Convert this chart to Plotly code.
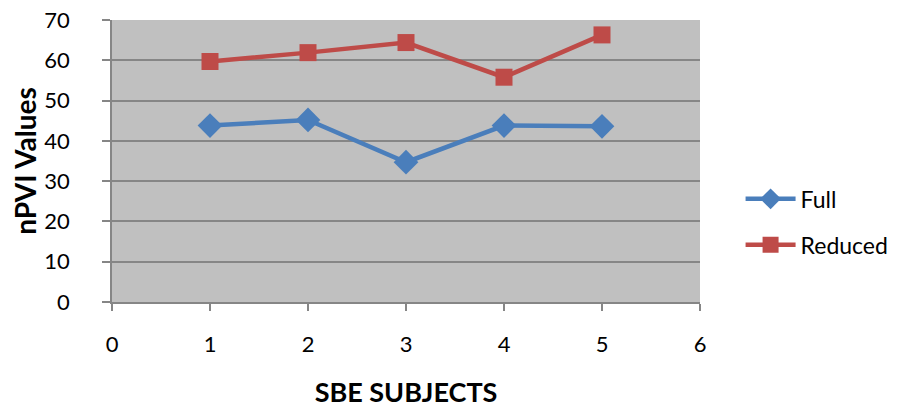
import plotly.graph_objects as go

# nPVI values per SBE subject
subjects = [1, 2, 3, 4, 5]
full_vals = [43.8, 45.2, 34.7, 43.8, 43.6]
reduced_vals = [59.7, 61.9, 64.4, 55.8, 66.3]

x_ticks = [0, 1, 2, 3, 4, 5, 6]
y_ticks = [0, 10, 20, 30, 40, 50, 60, 70]

FONT = "Lato, Carlito, 'Liberation Sans', sans-serif"
GRID = "#868686"

fig = go.Figure()
fig.add_trace(go.Scatter(
    x=subjects, y=full_vals, name="Full", mode="lines+markers",
    line=dict(color="#4A7EBB", width=4.5),
    marker=dict(symbol="diamond", size=19, color="#4A7EBB"),
    legendgroup="a",
))
fig.add_trace(go.Scatter(
    x=subjects, y=reduced_vals, name="Reduced", mode="lines+markers",
    line=dict(color="#BE4B48", width=4.5),
    marker=dict(symbol="square", size=17, color="#BE4B48"),
    legendgroup="b",
))

fig.update_layout(
    width=904, height=417,
    margin=dict(l=112, r=204, t=20, b=115, autoexpand=False),
    paper_bgcolor="white",
    plot_bgcolor="#C0C0C0",
    font=dict(family=FONT, size=22, color="black"),
    legend=dict(
        x=1.069, y=0.442, xanchor="left", yanchor="top",
        font=dict(size=23), tracegroupgap=13,
        itemwidth=50, bgcolor="rgba(0,0,0,0)",
    ),
    xaxis=dict(
        range=[0, 6], tickvals=x_ticks, ticktext=[str(v) for v in x_ticks],
        ticks="outside", ticklen=7, tickcolor=GRID, tickwidth=1.5,
        ticklabelstandoff=15, automargin=False,
        showgrid=False, zeroline=False,
        showline=True, linecolor=GRID, linewidth=1.5,
        title=dict(text="<b>SBE SUBJECTS</b>", font=dict(size=27), standoff=27),
        tickfont=dict(size=22),
    ),
    yaxis=dict(
        range=[0, 70], tickvals=y_ticks,
        ticks="outside", ticklen=8, tickcolor=GRID, tickwidth=1.5,
        ticklabelstandoff=28, automargin=False,
        showgrid=True, gridcolor=GRID, gridwidth=1.5,
        zeroline=False,
        showline=True, linecolor=GRID, linewidth=1.5,
        title=dict(text="<b>nPVI Values</b>", font=dict(size=28), standoff=0),
        tickfont=dict(size=22),
    ),
)

fig.write_html("out.html")
